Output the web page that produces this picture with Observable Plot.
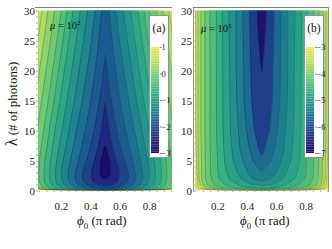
<!DOCTYPE html>
<html><head><meta charset="utf-8">
<script src="https://cdn.jsdelivr.net/npm/d3@7"></script>
<script src="https://cdn.jsdelivr.net/npm/@observablehq/plot@0.6"></script>
<style>
html,body{margin:0;padding:0;background:#fff;width:332px;height:249px;overflow:hidden;font-family:"Liberation Serif",serif;color:#111}
.abs{position:absolute;white-space:nowrap;line-height:1}
svg{position:absolute;overflow:visible;background:transparent}
.box{position:absolute;background:#fff;border:1.2px solid #7f93ab;box-sizing:border-box}
sub,sup{font-size:68%;line-height:0}
</style></head><body>
<script>
// Contour outlines: [lambda, half-width of the contour around phi = 0.5]
const palette = ["#1c0a68","#1f2c84","#1c5c90","#1f8c8f","#35b084","#6ec973","#b5df62","#efe85a"];
const contoursA = [
 [[30,.7],[0,.7]],
 [[30,.433],[25,.46],[20,.49],[15,.52],[3.5,.55],[1,.52],[.6,.5],[.3,.43],[.1,.25],[.02,0]],
 [[30,.392],[25,.42],[20,.45],[15,.48],[11,.505],[3.5,.52],[1,.5],[.6,.48],[.3,.44],[.1,.3],[.03,0]],
 [[30,.347],[25,.375],[20,.405],[15,.435],[11,.46],[7,.485],[3.5,.49],[2.5,.49],[1.5,.485],[1,.475],[.6,.46],[.3,.42],[.1,.28],[.04,0]],
 [[30,.301],[25,.33],[20,.36],[15,.39],[11,.415],[7,.44],[5,.45],[3.5,.453],[2.5,.453],[1.5,.45],[1,.44],[.6,.425],[.3,.38],[.1,.25],[.05,0]],
 [[30,.262],[25,.29],[20,.32],[15,.35],[11,.378],[7,.4],[5,.412],[3.5,.418],[2.5,.418],[1.5,.415],[1,.405],[.6,.385],[.3,.34],[.1,.2],[.06,0]],
 [[30,.221],[25,.25],[20,.28],[15,.31],[11,.338],[7,.362],[5,.375],[3.5,.38],[2.5,.38],[1.5,.376],[1,.365],[.6,.345],[.3,.295],[.08,0]],
 [[30,.172],[25,.2],[20,.23],[15,.262],[11,.29],[7,.318],[5,.332],[3.5,.34],[2.5,.34],[1.5,.335],[1,.325],[.6,.3],[.3,.24],[.1,0]],
 [[30,.122],[25,.15],[20,.18],[15,.212],[11,.242],[7,.272],[5,.288],[3.5,.298],[2.5,.298],[1.5,.293],[1,.28],[.6,.25],[.3,.18],[.13,0]],
 [[30,.07],[25,.095],[20,.125],[15,.158],[11,.19],[7,.222],[5,.24],[3.5,.25],[2.5,.255],[1.5,.25],[1,.232],[.6,.2],[.3,.13],[.18,0]],
 [[30,.025],[25,.045],[20,.07],[15,.1],[11,.13],[7,.165],[5,.185],[3.5,.2],[2.5,.207],[1.5,.2],[1,.183],[.6,.145],[.3,.06],[.25,0]],
 [[22.6,0],[21,.008],[18,.022],[15,.04],[11,.07],[7,.105],[5,.13],[3.5,.15],[2.5,.157],[1.5,.15],[1,.125],[.6,.09],[.35,0]],
 [[14.6,0],[13,.01],[11,.022],[9,.035],[7,.052],[5,.075],[3.5,.092],[2.5,.095],[1.5,.085],[1,.05],[.8,0]],
 [[7.6,0],[7,.01],[6,.02],[5,.03],[3.5,.036],[2.5,.032],[2,.012],[1.9,0]]
];
const valuesA = [0.5,.38,.12,-.12,-.37,-.62,-.87,-1.12,-1.37,-1.62,-1.87,-2.12,-2.5,-3];
const contoursB = [
 [[30,.7],[0,.7]],
 [[30,.47],[10,.47],[1,.46],[.4,.43],[.1,.3],[.02,0]],
 [[30,.452],[10,.452],[1,.44],[.4,.41],[.1,.3],[.03,0]],
 [[30,.436],[10,.436],[2,.43],[1,.42],[.4,.38],[.1,.25],[.05,0]],
 [[30,.416],[10,.416],[2,.41],[1,.4],[.5,.36],[.2,.25],[.07,0]],
 [[30,.389],[10,.389],[2,.385],[1,.37],[.5,.33],[.2,.2],[.1,0]],
 [[30,.354],[10,.354],[3,.35],[2,.345],[1,.325],[.5,.27],[.15,0]],
 [[30,.311],[10,.31],[3,.3],[2,.29],[1,.25],[.5,.18],[.25,0]],
 [[30,.27],[10,.265],[7,.26],[5,.255],[3,.24],[2,.22],[1,.16],[.6,.1],[.4,0]],
 [[30,.225],[10,.215],[7,.205],[5,.195],[3,.165],[2,.14],[1.2,.08],[.9,0]],
 [[30,.175],[20,.175],[15,.172],[10,.16],[7,.15],[5,.13],[3,.095],[2,.06],[1.6,0]],
 [[30,.13],[20,.125],[15,.122],[10,.105],[7,.085],[5,.06],[4,.03],[3.2,0]],
 [[30,.084],[25,.08],[20,.075],[15,.07],[10,.05],[8,.03],[6.5,.012],[5.9,0]],
 [[30,.032],[25,.02],[22,.01],[19.7,0]]
];
const valuesB = [-3.1,-3.25,-3.45,-3.7,-3.95,-4.2,-4.45,-4.7,-4.95,-5.2,-5.45,-5.7,-6.2,-6.85];
const xTicks = [0.2,0.4,0.6,0.8];
const xMinor = [.05,.1,.15,.2,.25,.3,.35,.4,.45,.5,.55,.6,.65,.7,.75,.8,.85,.9,.95];
const yTicks = [0,5,10,15,20,25,30];
const yMinor = [0,1,2,3,4,5,6,7,8,9,10,11,12,13,14,15,16,17,18,19,20,21,22,23,24,25,26,27,28,29,30];

function panel({contours, values, domain, left, width, ml, mr, xd, frameLeft, frameRight, frameTop, sides}){
  const fills=[], lines=[];
  contours.forEach((c,i)=>{
    c.forEach(([l,w])=>fills.push({k:i,v:values[i],l,lo:.5-w,hi:.5+w}));
    if(i>0){
      c.forEach(([l,w])=>lines.push({k:i,l,p:.5-w}));
      [...c].reverse().forEach(([l,w])=>lines.push({k:i,l,p:.5+w}));
    }
  });
  const p = Plot.plot({
    width,height:205,marginLeft:ml,marginRight:mr,marginTop:10.5,marginBottom:14.5,
    style:{fontFamily:"Liberation Serif",fontSize:"11px",color:"#222",background:"transparent"},
    x:{domain:xd,axis:null},
    y:{domain:[0,30],axis:null},
    color:{type:"linear",domain,range:palette},
    marks:[
      Plot.areaX(fills,{y:"l",x1:"lo",x2:"hi",z:"k",fill:"v",clip:true,curve:"linear"}),
      Plot.line(lines,{x:"p",y:"l",z:"k",stroke:"#000",strokeOpacity:.33,strokeWidth:.6,clip:true,curve:"linear"}),
      Plot.ruleY([frameTop],{x1:frameLeft,x2:frameRight,stroke:"#7d7d7d",strokeWidth:1}),
      Plot.ruleX(sides,{y1:-.2,y2:frameTop,stroke:"#8c8c8c",strokeWidth:1}),
      Plot.axisX({ticks:xMinor,tickFormat:()=>"",tickSize:1.5,stroke:"#aaa",anchor:"bottom",label:null}),
      Plot.axisX({ticks:xTicks,tickSize:0,tickPadding:11,anchor:"bottom",tickFormat:d3.format(".1f"),label:null}),
      Plot.axisY({ticks:yMinor,tickFormat:()=>"",tickSize:2,stroke:"#aaa",anchor:"left",label:null}),
      Plot.axisY({ticks:yTicks,tickSize:0,tickPadding:3.5,anchor:"left",label:null})
    ]
  });
  p.style.left=left+"px"; p.style.top="0";
  document.body.append(p);
  return p;
}
panel({contours:contoursA,values:valuesA,domain:[-3,1],left:0,width:172,ml:38,mr:0,xd:[.044,.956],frameLeft:.024,frameRight:.956,frameTop:30.58,sides:[]});
panel({contours:contoursB,values:valuesB,domain:[-7,-3],left:166,width:162,ml:29,mr:0,xd:[.047,.953],frameLeft:.033,frameRight:.953,frameTop:30.58,sides:[.033,.953]});

function legend(left,width,domain,ticks,label){
  const b=document.createElement("div");
  b.className="box";
  b.style.cssText=`left:${left}px;top:14.5px;width:${width}px;height:143.5px`;
  document.body.append(b);
  const t=document.createElement("div");
  t.className="abs"; t.textContent=label;
  t.style.cssText=`left:${left}px;width:${width}px;text-align:center;top:22.5px;font-size:11.5px`;
  document.body.append(t);
  const steps=d3.range(0,64).map(i=>domain[0]+(domain[1]-domain[0])*i/64);
  const dv=(domain[1]-domain[0])/64;
  const c=Plot.plot({
    width:18,height:106,marginLeft:0,marginRight:10,marginTop:0,marginBottom:0,
    style:{fontFamily:"Liberation Serif",fontSize:"8.5px",color:"#222",background:"transparent"},
    x:{domain:[0,1],axis:null},
    y:{domain,axis:null},
    color:{type:"linear",domain,range:palette},
    marks:[
      Plot.rect(steps,{x1:0,x2:1,y1:d=>d,y2:d=>d+dv,fill:d=>d+dv/2}),
      Plot.axisY({anchor:"right",ticks,tickSize:1.5,tickPadding:0.5,stroke:"#777",label:null,tickFormat:d=>String(d).replace("-","−")})
    ]
  });
  c.style.left=(left+2)+"px"; c.style.top="47px";
  document.body.append(c);
}
legend(149,20,[-3,1],[-3,-2,-1,0,1],"(a)");
legend(304,20,[-7,-3],[-7,-6,-5,-4,-3],"(b)");

function html(txt,css){const d=document.createElement("div");d.className="abs";d.innerHTML=txt;d.style.cssText=css;document.body.append(d);}
html('<i>μ</i> = 10<sup>2</sup>','left:50px;top:21px;font-size:10.5px');
html('<i>μ</i> = 10<sup>5</sup>','left:201px;top:24px;font-size:10.5px');
html('<i>ϕ</i><sub>0</sub> (π rad)','left:77px;top:214px;font-size:13px');
html('<i>ϕ</i><sub>0</sub> (π rad)','left:240px;top:214px;font-size:13px');
html('<span style="font-size:16px">λ</span> (# of photons)','left:12px;top:104px;font-size:13px;transform:translate(-50%,-50%) rotate(-90deg)');
</script>
</body></html>
